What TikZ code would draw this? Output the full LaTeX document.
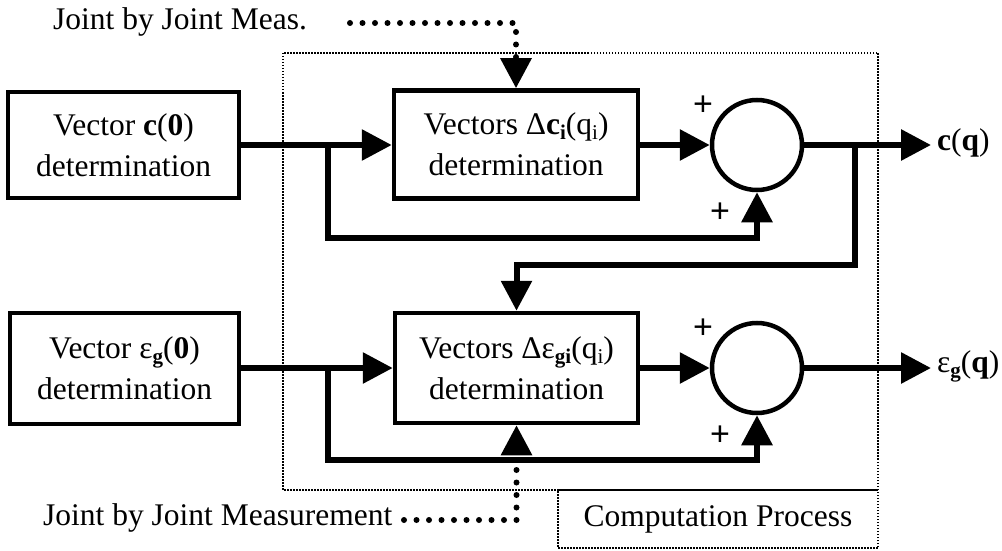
\documentclass[tikz,border=0pt]{standalone}
\usepackage{fontspec}
\setmainfont{Liberation Serif}
\newfontfamily\plusfont{Liberation Sans}
\usetikzlibrary{arrows.meta}
\newcommand{\lowr}[1]{\raisebox{-0.35ex}{\fontsize{21}{21}\selectfont\bfseries #1}}
\newcommand{\lowp}[1]{\raisebox{-0.35ex}{\fontsize{21}{21}\selectfont #1}}
\begin{document}
\begin{tikzpicture}[x=1pt,y=-1pt,
 every node/.style={font=\fontsize{31.5}{41}\selectfont},
 blk/.style={draw, line width=4.5pt, inner sep=0pt, align=center},
 sumc/.style={draw, circle, line width=4.5pt, minimum size=90pt, inner sep=0pt},
 conn/.style={line width=6pt, -{Triangle[length=30pt,width=30pt]}},
 bigdots/.style={line width=6pt, line cap=round, dash pattern=on 0pt off 12.5pt},
 finedots/.style={line width=2pt, dash pattern=on 1.5pt off 1.5pt},
 lbl/.style={inner sep=0pt},
 plus/.style={inner sep=0pt, font=\plusfont\fontsize{34}{34}\selectfont}]
\useasboundingbox (0,0) rectangle (1002,551);

% computation process frame
\draw[finedots] (283,53) rectangle (878,490);
\node[draw, finedots, lbl, minimum width=320pt, minimum height=58pt] (cp) at (718,519) {Computation Process};

% blocks
\node[blk, minimum width=231pt, minimum height=106pt] (c0) at (123.5,145) {Vector \textbf{c}(\textbf{0})\\determination};
\node[blk, minimum width=244pt, minimum height=108pt] (d1) at (516,144.5) {Vectors Δ\textbf{c}\lowr{i}(q\lowp{i})\\determination};
\node[sumc] (s1) at (757,145) {};
\node[blk, minimum width=229pt, minimum height=111pt] (e0) at (124.5,368.5) {Vector ε\lowr{g}(\textbf{0})\\determination};
\node[blk, minimum width=243pt, minimum height=110pt] (d2) at (516.5,368) {Vectors Δε\lowr{gi}(q\lowp{i})\\determination};
\node[sumc] (s2) at (757,368) {};

% plus signs
\node[plus] (p1) at (703,106) {+};
\node[plus] (p2) at (720,213) {+};
\node[plus] (p3) at (703,329) {+};
\node[plus] (p4) at (720,436) {+};

% outputs
\node[lbl, anchor=west] (cq) at (937,143) {\textbf{c}(\textbf{q})};
\node[lbl, anchor=west] (eq) at (937,366) {ε\lowr{g}(\textbf{q})};

% measurement labels
\node[lbl, anchor=base west] (jm1) at (53,30) {Joint by Joint Meas.};
\node[lbl, anchor=base west] (jm2) at (43,525) {Joint by Joint Measurement};

% junctions
\coordinate (j1) at (328,145);
\coordinate (j2) at (855,145);
\coordinate (j3) at (328,368);
\coordinate (o1) at (931,145);
\coordinate (o2) at (931,368);

% top row
\draw[conn] (c0.east) -- (d1.west |- c0.east);
\draw[conn] (d1.east |- s1.west) -- (s1.west);
\draw[conn] (s1.east) -- (o1);
\draw[conn] (j1) -- (328,238) -| (s1.south);
\draw[conn] (j2) -- (855,265) -| (d2.north);

% bottom row
\draw[conn] (e0.east |- d2.west) -- (d2.west);
\draw[conn] (d2.east |- s2.west) -- (s2.west);
\draw[conn] (s2.east) -- (o2);
\draw[conn] (j3) -- (328,460) -| (s2.south);

% measurement inputs
\coordinate (m1) at (350,23);
\draw[bigdots] (m1) -- (516,23) -- (516,58);
\draw[conn] (d1.north |- 0,58) -- (d1.north);
\coordinate (m2) at (404,520);
\draw[bigdots] (m2) -- (516.5,520) -- (516.5,462);
\draw[conn] (d2.south |- 0,454) -- (d2.south);
\end{tikzpicture}
\end{document}
